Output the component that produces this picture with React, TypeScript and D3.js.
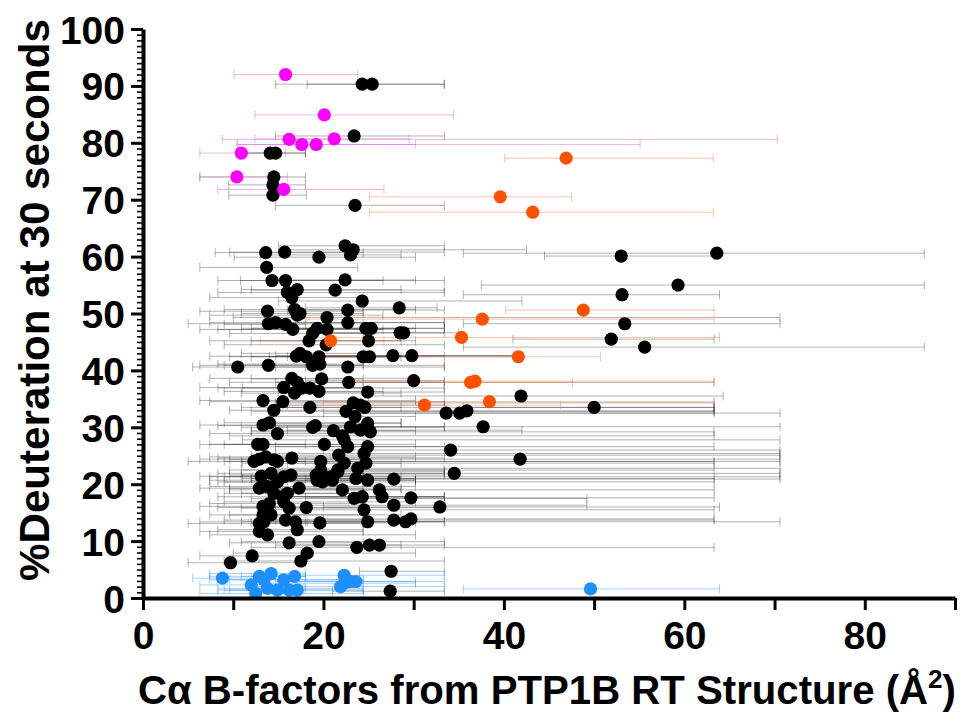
import React, { useEffect, useRef } from 'react';
import * as d3 from 'd3';

// [B-factor, %deuteration, B-factor low, B-factor high]
const blackPoints = [
  [24.3, 90.3, 14.7, 33.4], [25.4, 90.3, 18.2, 33.4], [23.4, 81.2, 14.7, 33.4],
  [14.1, 78.2, 10.9, 18.0], [14.7, 78.2, 10.4, 18.0], [14.5, 74.0, 6.3, 18.0],
  [14.4, 72.6, 9.5, 18.0], [14.4, 70.8, 9.5, 18.1], [23.5, 69.0, 14.7, 33.4],
  [13.6, 60.7, 8.0, 24.4], [15.7, 60.8, 9.6, 33.4], [19.5, 59.9, 10.1, 30.2],
  [22.4, 61.9, 15.0, 33.4], [23.3, 61.2, 16.0, 42.5], [23.0, 60.3, 13.0, 28.6],
  [13.7, 58.1, 6.3, 23.8], [14.3, 55.8, 8.3, 26.6], [15.8, 55.8, 10.8, 33.4],
  [22.4, 55.9, 14.7, 30.2], [16.0, 53.7, 8.3, 33.4], [17.1, 54.2, 10.9, 28.6],
  [16.5, 52.8, 7.4, 24.4], [21.3, 54.1, 12.0, 33.4], [24.3, 52.2, 15.0, 42.0],
  [28.4, 51.0, 18.0, 32.6], [13.8, 50.4, 6.3, 24.4], [16.8, 50.7, 9.0, 30.2],
  [17.1, 49.7, 7.4, 26.6], [17.4, 50.0, 10.9, 24.4], [22.7, 50.6, 16.0, 33.4],
  [20.4, 49.3, 10.0, 70.6], [13.9, 48.2, 5.0, 24.4], [14.7, 48.4, 7.4, 33.4],
  [15.8, 48.1, 9.0, 18.0], [16.6, 47.2, 6.3, 28.6], [22.7, 48.4, 14.7, 33.4],
  [24.7, 47.4, 12.0, 30.2], [25.3, 47.4, 16.0, 33.4], [28.5, 46.6, 18.2, 33.4],
  [28.9, 46.6, 20.5, 35.0], [19.3, 47.4, 10.9, 33.4], [20.4, 47.2, 8.3, 26.6],
  [18.8, 46.5, 9.6, 24.4], [18.4, 45.2, 7.4, 30.2], [20.3, 44.5, 9.0, 33.4],
  [25.0, 45.2, 12.0, 28.6],
  [53.0, 60.1, 44.5, 63.3], [63.6, 60.6, 35.5, 86.6], [59.3, 55.0, 37.5, 86.6],
  [53.1, 53.3, 35.5, 63.9], [53.4, 48.2, 35.5, 70.6], [51.9, 45.5, 41.0, 63.3],
  [55.6, 44.1, 35.5, 86.6],
  [17.0, 42.5, 7.4, 33.4], [17.4, 43.0, 10.9, 24.4], [18.1, 42.4, 9.6, 30.2],
  [18.8, 40.9, 6.3, 33.4], [19.5, 42.4, 12.0, 28.6], [19.6, 41.1, 8.3, 24.4],
  [10.5, 40.6, 5.5, 18.0], [13.9, 40.9, 9.0, 24.4], [22.7, 40.6, 14.7, 33.4],
  [24.4, 42.4, 14.0, 30.2], [25.1, 42.4, 16.0, 42.0], [27.7, 42.6, 18.2, 42.0],
  [29.8, 42.6, 14.7, 42.0], [30.0, 38.2, 18.0, 33.4],
  [16.5, 38.6, 7.4, 30.2], [17.1, 37.9, 9.6, 33.4], [15.6, 37.0, 6.3, 24.4],
  [16.8, 36.0, 10.9, 28.6], [17.6, 36.9, 8.3, 24.4], [18.5, 36.9, 11.0, 33.4],
  [19.5, 36.3, 9.0, 26.6], [19.8, 38.5, 12.0, 24.4], [22.8, 37.9, 14.7, 63.3],
  [24.9, 36.2, 15.0, 33.4], [41.9, 35.5, 25.0, 64.3],
  [13.3, 34.7, 6.3, 30.2], [14.5, 33.0, 9.6, 24.4], [15.5, 34.5, 7.4, 33.4],
  [18.5, 33.5, 10.9, 28.6], [22.5, 32.8, 12.0, 63.3], [23.3, 34.3, 14.7, 63.3],
  [24.1, 33.9, 16.0, 33.4], [24.6, 33.5, 15.0, 63.3], [23.5, 31.9, 14.0, 30.2],
  [50.0, 33.5, 35.5, 63.3], [33.6, 32.5, 22.0, 63.3], [35.1, 32.5, 20.0, 70.6],
  [35.9, 32.9, 24.0, 63.3],
  [13.3, 30.4, 6.3, 24.4], [14.0, 30.8, 9.0, 28.6], [14.9, 28.9, 7.4, 24.4],
  [18.8, 30.0, 10.9, 33.4], [19.1, 30.3, 8.3, 24.4], [21.1, 29.4, 12.0, 30.2],
  [22.1, 28.5, 9.6, 63.3], [23.0, 30.1, 14.7, 33.4], [24.1, 29.5, 16.0, 42.0],
  [24.9, 30.7, 14.7, 28.6], [25.2, 29.2, 12.0, 63.3], [37.7, 30.1, 25.0, 70.6],
  [12.7, 27.0, 6.3, 18.0], [13.3, 27.0, 7.4, 24.4], [20.1, 27.0, 9.0, 30.2],
  [22.3, 27.8, 11.0, 70.6], [22.7, 26.6, 14.7, 33.4], [24.9, 26.6, 13.0, 63.3],
  [34.1, 26.0, 20.0, 70.6],
  [12.3, 24.0, 5.0, 18.0], [12.9, 24.4, 6.3, 24.4], [13.6, 24.8, 7.4, 30.2],
  [14.5, 24.3, 9.6, 24.4], [14.9, 24.0, 10.9, 63.3], [16.5, 24.6, 8.3, 33.4],
  [19.7, 24.0, 9.0, 70.6], [21.7, 25.1, 12.0, 70.6], [22.3, 23.7, 11.0, 63.3],
  [24.5, 25.4, 14.7, 70.6], [24.7, 23.7, 16.0, 28.6], [41.8, 24.4, 24.4, 70.6],
  [19.7, 22.5, 10.9, 33.4], [21.6, 22.5, 9.6, 63.3], [21.0, 20.7, 7.4, 30.2],
  [23.8, 22.8, 14.7, 70.6], [13.1, 21.4, 6.3, 24.4], [14.2, 21.9, 8.3, 33.4],
  [14.9, 20.4, 9.0, 24.4], [15.6, 21.3, 7.4, 28.6], [16.4, 21.6, 10.9, 24.4],
  [19.2, 21.6, 9.6, 33.4], [19.3, 20.7, 12.0, 24.4], [19.9, 20.4, 8.3, 63.3],
  [20.3, 21.0, 11.0, 30.2], [20.8, 21.3, 9.0, 70.6], [21.6, 22.2, 14.7, 33.4],
  [23.6, 21.0, 12.0, 63.3], [24.9, 20.7, 16.0, 30.2], [27.8, 20.9, 18.0, 70.6],
  [34.5, 21.9, 20.0, 70.6],
  [26.2, 19.0, 14.7, 63.3], [26.5, 17.8, 16.0, 33.4], [22.1, 19.0, 9.6, 28.6],
  [23.4, 17.5, 12.0, 49.2], [24.3, 17.8, 14.7, 33.4], [12.9, 19.3, 6.3, 24.4],
  [13.8, 19.6, 7.4, 30.2], [14.5, 18.4, 9.0, 24.4], [15.5, 17.8, 8.3, 33.4],
  [16.0, 18.4, 10.9, 24.4], [17.3, 19.3, 9.6, 28.6], [29.7, 17.6, 18.0, 63.3],
  [13.3, 16.1, 6.3, 18.0], [14.0, 16.6, 7.4, 24.4], [15.6, 16.9, 9.0, 30.2],
  [16.2, 15.8, 10.9, 24.4], [18.1, 15.9, 8.3, 33.4], [32.9, 16.0, 20.0, 63.9],
  [13.3, 14.6, 7.4, 24.4], [14.2, 14.6, 9.6, 28.6], [13.4, 13.4, 6.3, 18.0],
  [12.9, 13.1, 5.0, 24.4], [15.8, 13.7, 9.0, 24.4], [16.9, 13.4, 10.9, 33.4],
  [17.1, 12.0, 8.3, 24.4], [19.6, 13.2, 12.0, 30.2], [24.5, 15.5, 14.7, 63.3],
  [24.9, 13.4, 16.0, 33.4], [27.8, 16.3, 18.0, 49.2], [27.8, 13.7, 14.7, 63.3],
  [29.1, 13.4, 18.2, 70.6], [29.7, 13.9, 20.0, 63.3],
  [12.9, 11.7, 6.3, 24.4], [13.8, 11.1, 7.4, 30.2], [16.2, 9.7, 9.6, 24.4],
  [19.5, 9.9, 10.9, 33.4], [23.7, 8.9, 12.0, 63.3], [25.1, 9.3, 14.7, 28.6],
  [26.2, 9.3, 16.0, 33.4], [12.1, 7.4, 6.3, 18.0], [9.7, 6.2, 5.0, 18.0],
  [18.2, 7.9, 10.0, 30.2], [17.5, 6.5, 9.0, 33.4], [27.5, 4.7, 24.0, 33.4],
  [27.4, 1.2, 21.0, 33.4],
];

const orangePoints = [
  [46.9, 77.3, 40.1, 63.2], [39.6, 70.5, 25.1, 47.5], [43.2, 67.8, 25.1, 63.2],
  [48.8, 50.6, 40.2, 63.3], [37.6, 49.0, 18.0, 63.3], [35.3, 45.8, 18.0, 63.9],
  [20.8, 45.2, 13.0, 26.7], [41.6, 42.4, 18.0, 50.7], [36.3, 37.9, 20.0, 47.6],
  [36.8, 38.1, 23.0, 63.3], [38.4, 34.5, 20.0, 63.3], [31.2, 33.9, 14.7, 46.3],
];

const magentaPoints = [
  [15.8, 92.0, 10.1, 23.8], [20.1, 84.9, 12.4, 34.4], [16.2, 80.6, 8.8, 70.3],
  [17.6, 79.7, 10.4, 30.2], [19.2, 79.7, 10.5, 55.1], [21.2, 80.7, 12.4, 29.5],
  [10.9, 78.2, 6.3, 15.8], [10.4, 74.0, 6.3, 16.0], [15.6, 71.8, 8.3, 26.7],
];

const bluePoints = [
  [8.8, 3.5, 5.5, 12.0], [12.0, 2.3, 6.3, 18.0], [12.5, 0.8, 6.3, 24.4],
  [12.9, 3.8, 7.4, 18.0], [13.4, 3.2, 9.6, 24.4], [14.2, 4.3, 7.4, 18.0],
  [13.8, 1.7, 8.3, 24.4], [14.9, 1.4, 9.0, 18.0], [15.6, 3.2, 7.4, 24.4],
  [16.2, 1.4, 9.6, 24.4], [16.8, 3.8, 10.9, 18.0], [17.1, 1.4, 8.3, 24.4],
  [22.3, 2.6, 12.0, 30.2], [22.3, 4.0, 14.7, 33.4], [23.0, 2.9, 16.0, 33.4],
  [23.6, 2.9, 14.7, 30.2], [21.9, 2.0, 12.0, 33.4], [49.6, 1.6, 35.5, 63.9],
];

const series = [
  { name: 'black', data: blackPoints, dot: '#000000', bar: 'rgba(0,0,0,0.3)' },
  { name: 'orange', data: orangePoints, dot: '#ff5200', bar: 'rgba(240,110,50,0.4)' },
  { name: 'magenta', data: magentaPoints, dot: '#ff00ff', bar: 'rgba(215,90,215,0.45)' },
  { name: 'blue', data: bluePoints, dot: '#1e8fff', bar: 'rgba(40,140,255,0.4)' },
];

const xTicks = [0, 10, 20, 30, 40, 50, 60, 70, 80, 90];
const yMajorTicks = [0, 10, 20, 30, 40, 50, 60, 70, 80, 90, 100];

const W = 961;
const H = 717;
const FONT = '"Liberation Sans", Arial, Helvetica, sans-serif';

export default function App() {
  const ref = useRef<SVGSVGElement>(null);

  useEffect(() => {
    const svg = d3.select(ref.current);
    svg.selectAll('*').remove();

    const x = d3.scaleLinear().domain([0, 90]).range([143, 955]);
    const y = d3.scaleLinear().domain([0, 100]).range([598, 29]);

    // error bars first, all groups
    const capH = 4.5;
    series.forEach((s) => {
      const g = svg.append('g').attr('stroke', s.bar).attr('stroke-width', 1).attr('fill', 'none');
      s.data.forEach((d) => {
        const cy = y(d[1]);
        g.append('line').attr('x1', x(d[2])).attr('x2', x(d[3])).attr('y1', cy).attr('y2', cy);
        g.append('line').attr('x1', x(d[2])).attr('x2', x(d[2])).attr('y1', cy - capH).attr('y2', cy + capH);
        g.append('line').attr('x1', x(d[3])).attr('x2', x(d[3])).attr('y1', cy - capH).attr('y2', cy + capH);
      });
    });

    // points
    series.forEach((s) => {
      svg.append('g')
        .selectAll('circle')
        .data(s.data)
        .join('circle')
        .attr('cx', (d) => x(d[0]))
        .attr('cy', (d) => y(d[1]))
        .attr('r', 6.6)
        .attr('fill', s.dot);
    });

    // y axis: minor ticks every 1, major every 10
    const yMinor = svg.append('g')
      .attr('transform', `translate(${x(0)},0)`)
      .call(d3.axisLeft(y).tickValues(d3.range(0, 101, 1)).tickSize(6).tickSizeOuter(0).tickFormat(() => ''));
    yMinor.select('.domain').remove();
    yMinor.selectAll('line').attr('stroke', '#000').attr('stroke-width', 1.6);

    const yAxis = svg.append('g')
      .attr('transform', `translate(${x(0)},0)`)
      .call(d3.axisLeft(y).tickValues(yMajorTicks).tickSize(12).tickSizeOuter(0).tickPadding(6));
    yAxis.select('.domain').attr('stroke', '#000').attr('stroke-width', 4);
    yAxis.selectAll('line').attr('stroke', '#000').attr('stroke-width', 3);
    yAxis.selectAll('text')
      .attr('font-family', FONT)
      .attr('font-weight', 'bold')
      .attr('font-size', 39)
      .attr('fill', '#000')
      .attr('dy', '0.36em');

    // x axis
    const xAxis = svg.append('g')
      .attr('transform', `translate(0,${y(0)})`)
      .call(d3.axisBottom(x).tickValues(xTicks).tickSize(12).tickSizeOuter(0).tickPadding(10)
        .tickFormat((d) => ((d as number) % 20 === 0 ? String(d) : '')));
    xAxis.select('.domain').attr('stroke', '#000').attr('stroke-width', 4);
    xAxis.selectAll('line').attr('stroke', '#000').attr('stroke-width', 3);
    xAxis.selectAll('text')
      .attr('font-family', FONT)
      .attr('font-weight', 'bold')
      .attr('font-size', 39)
      .attr('fill', '#000')
      .attr('dy', '0.75em');

    // axis titles
    svg.append('text')
      .attr('transform', 'translate(49,300) rotate(-90)')
      .attr('text-anchor', 'middle')
      .attr('font-family', FONT)
      .attr('font-weight', 'bold')
      .attr('font-size', 42)
      .attr('textLength', 562)
      .attr('lengthAdjust', 'spacingAndGlyphs')
      .text('%Deuteration at 30 seconds');

    const xt = svg.append('text')
      .attr('x', 138)
      .attr('y', 704)
      .attr('font-family', FONT)
      .attr('font-weight', 'bold')
      .attr('font-size', 40)
      .attr('textLength', 818)
      .attr('lengthAdjust', 'spacingAndGlyphs');
    xt.append('tspan').text('Cα B-factors from PTP1B RT Structure (Å');
    xt.append('tspan').attr('font-size', 26).attr('dy', -16).text('2');
    xt.append('tspan').attr('dy', 16).text(')');
  }, []);

  return (
    <svg
      ref={ref}
      width={W}
      height={H}
      style={{ position: 'absolute', left: 0, top: 0, background: '#fff' }}
    />
  );
}
